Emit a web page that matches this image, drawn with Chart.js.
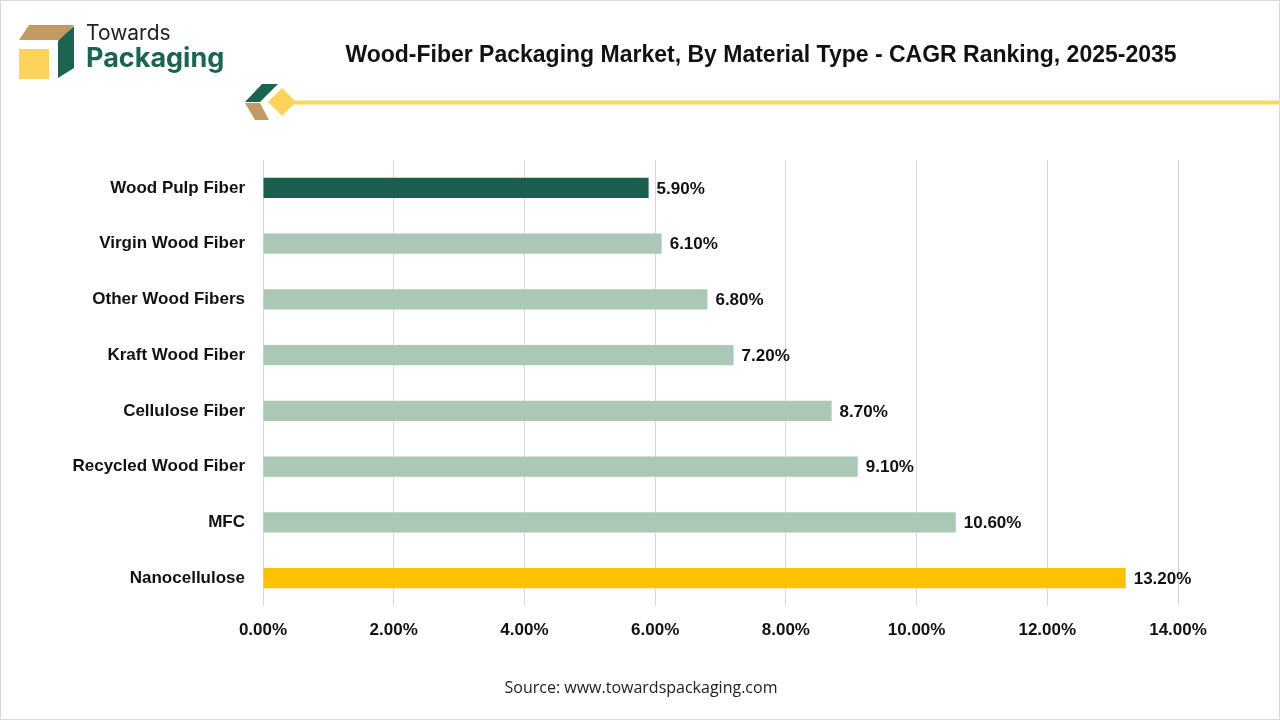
<!DOCTYPE html>
<html>
<head>
<meta charset="utf-8">
<script src="https://cdn.jsdelivr.net/npm/chart.js@4.4.1/dist/chart.umd.min.js"></script>
<style>
  html, body { margin: 0; padding: 0; background: #fff; }
  #wrap {
    position: relative;
    width: 1280px;
    height: 720px;
    box-sizing: border-box;
    border: 1px solid #d9d9d9;
    overflow: hidden;
    font-family: "Liberation Sans", Arial, sans-serif;
  }
  #chart { position: absolute; left: 0; top: 0; }
  #title {
    position: absolute;
    left: 300px;
    top: 40px;
    width: 920px;
    text-align: center;
    font-weight: bold;
    font-size: 23px;
    color: #111;
  }
  #source {
    position: absolute;
    left: 0;
    top: 675px;
    width: 1280px;
    text-align: center;
    font-family: "Open Sans", sans-serif;
    font-size: 16px;
    color: #222;
  }
  .logo-text { position: absolute; left: 85px; font-family: "Inter", sans-serif; }
  #t1 { top: 19px; font-size: 21px; color: #222; }
  #t2 { top: 40px; font-size: 27px; font-weight: bold; color: #1b6450; }
  svg { position: absolute; left: 0; top: 0; }
</style>
</head>
<body>
<div id="wrap">
  <canvas id="chart" width="1280" height="720"></canvas>
  <svg width="1280" height="130">
    <polygon points="18,39 28,24 73,24 60,39" fill="#c49a64"/>
    <polygon points="57,40 73,25 73,67 57,77" fill="#1b6450"/>
    <rect x="18" y="48" width="30" height="30" fill="#fdd35c"/>
    <polygon points="244,101 261,83 277,83 259,101" fill="#1b6450"/>
    <polygon points="244,102 259,102 268,119 254,119" fill="#c49a64"/>
    <rect x="287" y="99.5" width="993" height="4" fill="#f8d661"/>
    <polygon points="281,87 295,101 281,115 267,101" fill="#fdd35c"/>
  </svg>
  <div class="logo-text" id="t1">Towards</div>
  <div class="logo-text" id="t2">Packaging</div>
  <div id="title">Wood-Fiber Packaging Market, By Material Type - CAGR Ranking, 2025-2035</div>
  <div id="source">Source: www.towardspackaging.com</div>
</div>
<script>
const materials = [
  'Wood Pulp Fiber',
  'Virgin Wood Fiber',
  'Other Wood Fibers',
  'Kraft Wood Fiber',
  'Cellulose Fiber',
  'Recycled Wood Fiber',
  'MFC',
  'Nanocellulose',
];
const cagrValues = [5.9, 6.1, 6.8, 7.2, 8.7, 9.1, 10.6, 13.2];
const barColors = ['#1b5e50', '#aac8b5', '#aac8b5', '#aac8b5', '#aac8b5', '#aac8b5', '#aac8b5', '#fcc200'];
const axisMax = 14;

const FONT_FAMILY = '"Liberation Sans", Arial, sans-serif';
const LABEL_FONT = 'bold 17px ' + FONT_FAMILY;

// Draws the percentage next to the end of each bar
const valueLabels = {
  id: 'valueLabels',
  afterDatasetsDraw(chart) {
    const ctx = chart.ctx;
    const meta = chart.getDatasetMeta(0);
    ctx.save();
    ctx.font = LABEL_FONT;
    ctx.fillStyle = '#111';
    ctx.textAlign = 'left';
    ctx.textBaseline = 'middle';
    meta.data.forEach((bar, i) => {
      ctx.fillText(cagrValues[i].toFixed(2) + '%', bar.x + 8, bar.y + 1);
    });
    ctx.restore();
  },
};

new Chart(document.getElementById('chart'), {
  type: 'bar',
  data: {
    labels: materials,
    datasets: [{
      data: cagrValues,
      backgroundColor: barColors,
      barPercentage: 0.36,
      categoryPercentage: 1,
    }],
  },
  options: {
    indexAxis: 'y',
    responsive: false,
    animation: false,
    layout: {
      padding: { left: 0, right: 103, top: 159, bottom: 0 },
    },
    plugins: {
      legend: { display: false },
      tooltip: { enabled: false },
    },
    scales: {
      x: {
        min: 0,
        max: axisMax,
        ticks: {
          stepSize: 2,
          padding: 14,
          color: '#111',
          font: { family: FONT_FAMILY, size: 17, weight: 'bold' },
          callback: (v) => v.toFixed(2) + '%',
        },
        grid: { color: '#d9d9d9', drawTicks: false },
        border: { display: false },
        afterFit: (scale) => { scale.height = 115; },
      },
      y: {
        ticks: {
          padding: 18,
          color: '#111',
          font: { family: FONT_FAMILY, size: 17, weight: 'bold' },
        },
        grid: { display: false, drawTicks: false },
        border: { display: false },
        afterFit: (scale) => { scale.width = 262; },
      },
    },
  },
  plugins: [valueLabels],
});
</script>
</body>
</html>
